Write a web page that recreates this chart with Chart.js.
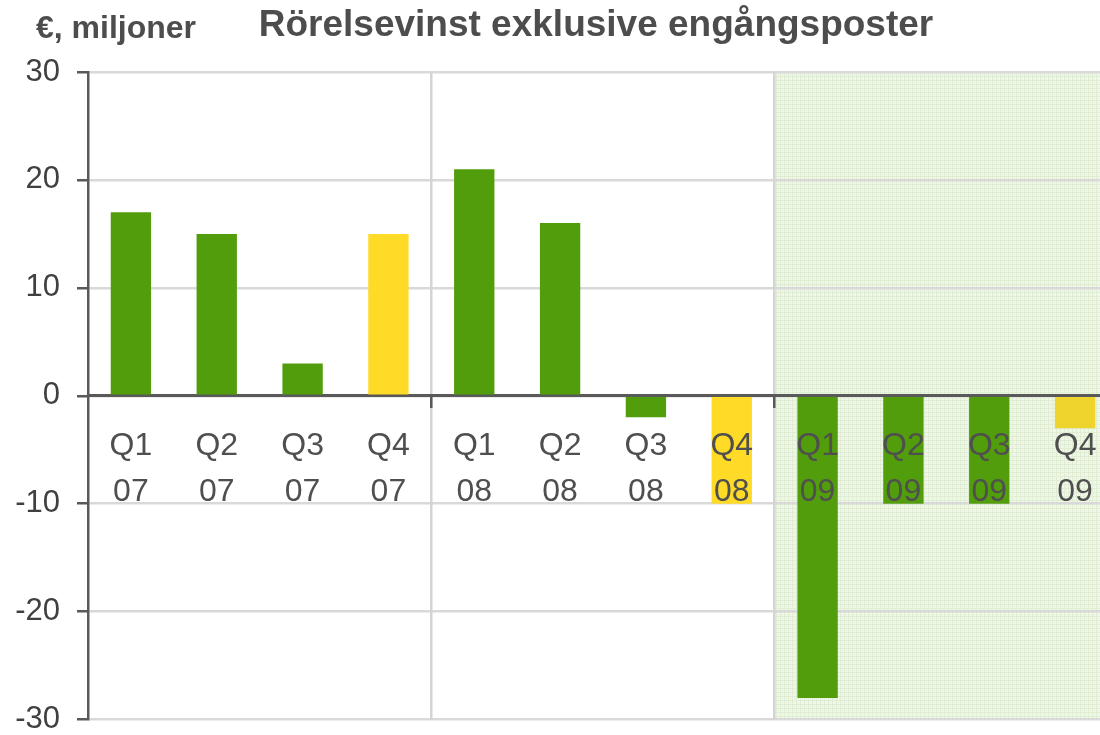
<!DOCTYPE html>
<html>
<head>
<meta charset="utf-8">
<script src="https://cdn.jsdelivr.net/npm/chart.js@4/dist/chart.umd.min.js"></script>
<style>
  html, body { margin: 0; padding: 0; background: #ffffff; overflow: hidden; }
  #wrap { width: 1100px; height: 735px; overflow: hidden; position: relative; }
  canvas { display: block; }
</style>
</head>
<body>
<div id="wrap"><canvas id="c" width="1118" height="752"></canvas></div>
<script>
// ---- data ----
const quarters = ['Q1', 'Q2', 'Q3', 'Q4', 'Q1', 'Q2', 'Q3', 'Q4', 'Q1', 'Q2', 'Q3', 'Q4'];
const years    = ['07', '07', '07', '07', '08', '08', '08', '08', '09', '09', '09', '09'];
const values   = [17, 15, 3, 15, 21, 16, -2, -10, -28, -10, -10, -3];
const yTicks   = [-30, -20, -10, 0, 10, 20, 30];
const titleText = 'Rörelsevinst exklusive engångsposter';
const unitText  = '€, miljoner';

// ---- styles ----
const GREEN = '#519d0b';
const YELLOW = '#ffda27';
const YELLOW_SHADED = '#efd42e';
const barColors = [GREEN, GREEN, GREEN, YELLOW, GREEN, GREEN, GREEN, YELLOW, GREEN, GREEN, GREEN, YELLOW_SHADED];
const FONT = '"Liberation Sans", Arial, Helvetica, sans-serif';

const labels = quarters.map((q, i) => [q, years[i]]);

function makeShadePattern(ctx) {
  const p = document.createElement('canvas');
  p.width = 4; p.height = 4;
  const pc = p.getContext('2d');
  pc.fillStyle = '#f1f7eb';
  pc.fillRect(0, 0, 4, 4);
  pc.fillStyle = '#dfeed3';
  pc.fillRect(0, 0, 4, 1);
  pc.fillRect(0, 0, 1, 4);
  pc.fillStyle = '#e7f1de';
  pc.fillRect(2, 2, 1, 1);
  return ctx.createPattern(p, 'repeat');
}

const shadePlugin = {
  id: 'shade',
  beforeDraw(chart) {
    const { ctx, chartArea, scales } = chart;
    const x0 = scales.x.getPixelForValue(7.5);
    ctx.save();
    ctx.fillStyle = makeShadePattern(ctx);
    ctx.fillRect(x0, chartArea.top, chartArea.right - x0, chartArea.bottom - chartArea.top);
    ctx.restore();
  }
};

const textPlugin = {
  id: 'texts',
  afterDraw(chart) {
    const ctx = chart.ctx;
    ctx.save();
    ctx.fillStyle = '#4d4d4d';
    ctx.textBaseline = 'alphabetic';
    ctx.textAlign = 'left';
    ctx.font = 'bold 32px ' + FONT;
    ctx.fillText(unitText, 36, 38);
    ctx.font = 'bold 37px ' + FONT;
    ctx.textAlign = 'center';
    ctx.fillText(titleText, 596, 36);
    ctx.restore();
  }
};

new Chart(document.getElementById('c'), {
  type: 'bar',
  data: {
    labels: labels,
    datasets: [{
      data: values,
      backgroundColor: barColors,
      borderWidth: 0,
      barPercentage: 0.47,
      categoryPercentage: 1.0
    }]
  },
  options: {
    responsive: false,
    animation: false,
    events: [],
    layout: { padding: { top: 72, bottom: 15, left: 0, right: 0 } },
    plugins: {
      legend: { display: false },
      tooltip: { enabled: false },
      title: { display: false }
    },
    scales: {
      y: {
        min: -30,
        max: 30,
        afterBuildTicks(scale) { scale.ticks = yTicks.map(v => ({ value: v })); },
        afterFit(scale) { scale.width = 88; },
        border: { display: true, color: '#595959', width: 2.5 },
        grid: { color: '#d9d9d9', lineWidth: 2.5, tickColor: '#595959', tickLength: 11, tickWidth: 2.5 },
        ticks: {
          padding: 17,
          color: '#404040',
          font: { family: FONT, size: 31, lineHeight: 1.0 }
        }
      },
      x: {
        type: 'category',
        position: { y: 0 },
        offset: true,
        border: { display: true, color: '#595959', width: 3, z: 0 },
        grid: {
          offset: true,
          drawOnChartArea: true,
          lineWidth: 2.5,
          tickLength: 11,
          tickWidth: 2.5,
          color: (c) => (c.index === 4 || c.index === 8) ? '#d4d4d4' : 'rgba(0,0,0,0)',
          tickColor: (c) => (c.index === 4 || c.index === 8) ? '#595959' : 'rgba(0,0,0,0)'
        },
        ticks: {
          z: 1,
          padding: 16,
          autoSkip: false,
          maxRotation: 0,
          minRotation: 0,
          color: '#4f4f4f',
          font: { family: FONT, size: 32, lineHeight: 1.44 }
        }
      }
    }
  },
  plugins: [shadePlugin, textPlugin]
});
</script>
</body>
</html>
